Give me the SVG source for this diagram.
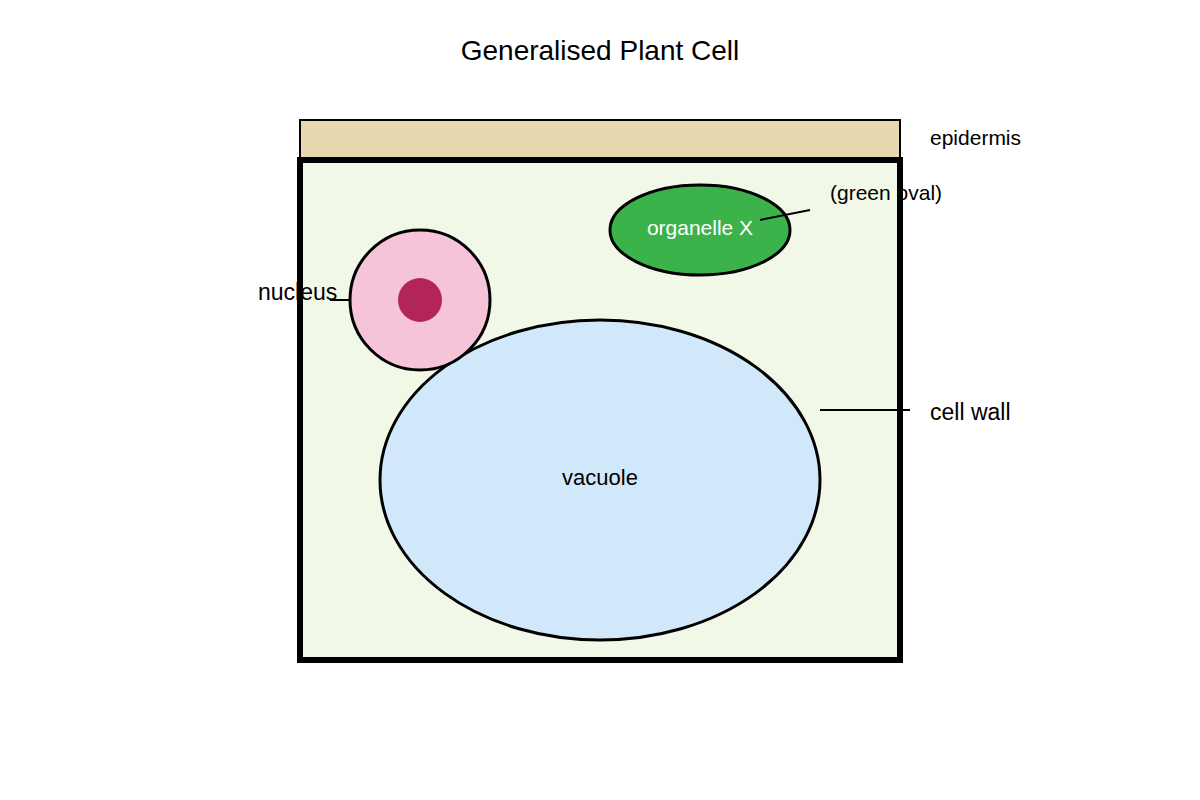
<svg xmlns="http://www.w3.org/2000/svg" width="1200" height="800" viewBox="0 0 1200 800">
<style>
text{font-family:"Liberation Sans",Arial,sans-serif;fill:#000}
.ln{stroke:#000;stroke-width:2;fill:none}
</style>
<rect width="1200" height="800" fill="#fff"/>
<text x="600" y="60" font-size="28" text-anchor="middle">Generalised Plant Cell</text>
<g id="epidermis"><rect x="300" y="120" width="600" height="40" fill="#e8d8b0" stroke="#000" stroke-width="2"/></g>
<g id="cell-fill"><rect x="300" y="160" width="600" height="500" fill="#f2f8e8"/></g>
<g id="vacuole"><ellipse cx="600" cy="480" rx="220" ry="160" fill="#d0e8fa" stroke="#000" stroke-width="3"/>
<text x="600" y="485" font-size="22" text-anchor="middle">vacuole</text></g>
<g id="nucleus"><circle cx="420" cy="300" r="70" fill="#f6c4d8" stroke="#000" stroke-width="3"/>
<circle cx="420" cy="300" r="22" fill="#b3245a"/></g>
<g id="organelle-x"><ellipse cx="700" cy="230" rx="90" ry="45" fill="#3cb34a" stroke="#000" stroke-width="3"/>
<text x="700" y="235" font-size="21" text-anchor="middle" style="fill:#fff">organelle X</text></g>
<g id="labels">
<text x="930" y="145" font-size="21">epidermis</text>
<text x="830" y="200" font-size="21">(green oval)</text>
<text x="258" y="300" font-size="23">nucleus</text>
<text x="930" y="420" font-size="23">cell wall</text>
</g>
<g id="connectors">
<line class="ln" x1="760" y1="220" x2="810" y2="210"/>
<line class="ln" x1="330" y1="300" x2="350" y2="300"/>
<line class="ln" x1="820" y1="410" x2="910" y2="410"/>
</g>
<g id="cell-wall"><rect x="300" y="160" width="600" height="500" fill="none" stroke="#000" stroke-width="6"/></g>
</svg>
